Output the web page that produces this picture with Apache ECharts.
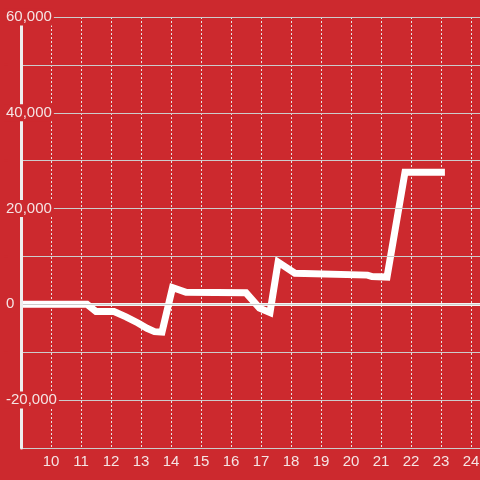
<!DOCTYPE html>
<html>
<head>
<meta charset="utf-8">
<script src="https://cdn.jsdelivr.net/npm/echarts@6/dist/echarts.min.js"></script>
<style>html,body{margin:0;padding:0;background:#cc292e;}#c{width:480px;height:480px;}</style>
</head>
<body>
<div id="c"></div>
<script>
const hours = [9, 11.2, 11.5, 12.1, 12.5, 12.9, 13.2, 13.45, 13.7, 14.05, 14.5, 16.5, 16.95, 17.3, 17.57, 18.13, 20.55, 20.7, 21.2, 21.8, 23.13];
const values = [0, 0, -1500, -1500, -2600, -3900, -5000, -5700, -5800, 3500, 2500, 2400, -800, -1700, 8800, 6500, 6100, 5800, 5700, 27600, 27600];
const xTicks = [10, 11, 12, 13, 14, 15, 16, 17, 18, 19, 20, 21, 22, 23, 24];
const yLabels = [60000, 40000, 20000, 0, -20000];

const bg = '#cc292e';
const chart = echarts.init(document.getElementById('c'));
chart.setOption({
  backgroundColor: bg,
  animation: false,
  grid: {left: 21, right: 0, top: 17, bottom: 32, containLabel: false, outerBoundsMode: 'none'},
  xAxis: {
    type: 'value', min: 9, max: 24.3, interval: 1,
    axisLine: {lineStyle: {color: '#cccccc', width: 1}},
    axisTick: {show: false},
    axisLabel: {
      color: '#f5e4e4', fontSize: 15, fontFamily: 'Liberation Sans, Arial, sans-serif', margin: 6,
      formatter: v => xTicks.includes(v) ? String(v) : ''
    },
    splitLine: {show: true, lineStyle: {color: '#e6e6e6', type: [2, 2], width: 1}}
  },
  yAxis: {
    type: 'value', min: -30000, max: 60000, interval: 10000, z: 10,
    axisLine: {show: true, lineStyle: {color: '#eeeeee', width: 3}},
    axisTick: {show: false},
    axisLabel: {
      color: '#f5e4e4', fontSize: 15, fontFamily: 'Liberation Sans, Arial, sans-serif', margin: 17,
      align: 'left', backgroundColor: bg, padding: [1, 2],
      formatter: v => yLabels.includes(v) ? v.toLocaleString('en-US') : ''
    },
    splitLine: {show: true, lineStyle: {color: '#cccccc', width: 1}}
  },
  series: [{
    type: 'line',
    data: hours.map((h, i) => [h, values[i]]),
    symbol: 'none',
    lineStyle: {color: '#ffffff', width: 7, join: 'miter'},
    z: 3,
    markLine: {
      silent: true, symbol: 'none', label: {show: false}, z: 2,
      lineStyle: {color: '#f4f4f4', width: 3, type: 'solid'},
      data: [{yAxis: 0}]
    }
  }]
});
</script>
</body>
</html>
